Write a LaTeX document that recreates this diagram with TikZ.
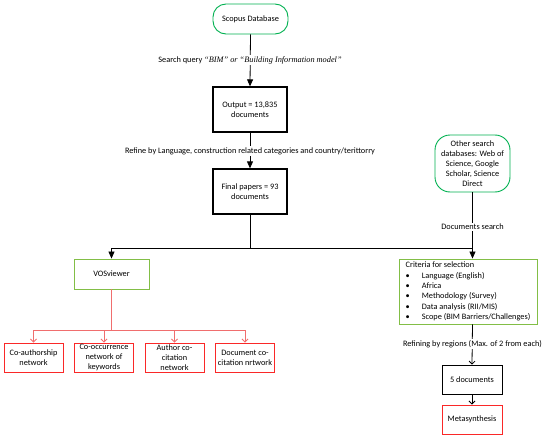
\documentclass[tikz,border=0pt]{standalone}
\usepackage{fontspec}
\setmainfont{Carlito}
\newfontfamily\tms{Liberation Serif}
\usetikzlibrary{arrows.meta}
\definecolor{sgreen}{RGB}{0,176,80}
\definecolor{lgreen}{RGB}{130,190,70}
\definecolor{rbox}{RGB}{250,40,40}
\definecolor{rline}{RGB}{240,110,110}
\tikzset{
  txt/.style={font=\fontsize{8.3}{10}\selectfont},
  term/.style={draw=sgreen, line width=0.9pt, rounded corners=13pt, align=center, inner sep=1pt},
  bbox/.style={draw=black, line width=1.3pt, align=center, minimum width=74pt, minimum height=45pt, inner sep=1pt},
  gbox/.style={draw=lgreen, line width=0.9pt, align=center, inner sep=1pt},
  rbx/.style={draw=rbox, line width=0.9pt, align=center, minimum width=59pt, minimum height=29pt, inner sep=0pt},
  sbox/.style={draw=black, line width=0.8pt, align=center, minimum width=60pt, minimum height=29pt, inner sep=1pt},
  lbl/.style={fill=white, inner sep=1pt},
  conn/.style={draw=black, line width=0.8pt},
  farr/.style={conn, -{Triangle[length=7pt,width=6pt]}},
  sarr/.style={conn, -{Straight Barb[length=3pt,width=6pt]}},
  rarr/.style={draw=rline, line width=0.9pt, -{Straight Barb[length=3pt,width=6pt]}},
  rl/.style={draw=rline, line width=0.9pt}
}
\begin{document}
\begin{tikzpicture}[x=1pt,y=-1pt,txt]
\useasboundingbox (0,0) rectangle (550,439);
% main column
\node[term, minimum width=75pt, minimum height=30pt] (scopus) at (250.5,19) {Scopus Database};
\node[bbox] (out) at (250,109.5) {Output = 13,835\\documents};
\node[bbox] (fin) at (250,191.5) {Final papers = 93\\documents};
\node[term, minimum width=75pt, minimum height=57pt, rounded corners=15pt, inner sep=0pt] (other) at (472.5,163.5) {Other search\\databases: Web of\\Science, Google\\Scholar, Science\\Direct};
\node[gbox, minimum width=75pt, minimum height=30pt] (vos) at (111.5,274) {VOSviewer};
\node[gbox, minimum width=138pt, minimum height=65pt, align=left, inner sep=2pt, font=\fontsize{8.3}{10.4}\selectfont] (crit) at (468,291.5) {Criteria for selection\\
\textbullet\hspace{12pt}Language (English)\\
\textbullet\hspace{12pt}Africa\\
\textbullet\hspace{12pt}Methodology (Survey)\\
\textbullet\hspace{12pt}Data analysis (RII/MIS)\\
\textbullet\hspace{12pt}Scope (BIM Barriers/Challenges)};
\node[rbx] (co1) at (33.5,357.5) {Co-authorship\\network};
\node[rbx] (co2) at (104,357.5) {Co-occurrence\\network of\\keywords};
\node[rbx] (co3) at (174.5,357.5) {Author co-\\citation\\network};
\node[rbx] (co4) at (245,357.5) {Document co-\\citation nrtwork};
\node[sbox] (five) at (472,379.5) {5 documents};
\node[rbx, minimum width=60pt] (meta) at (472,419.5) {Metasynthesis};
% connectors
\draw[farr] (scopus.south) -- (out.north);
\node[lbl] (q1) at (250,60) {Search query {\tms\itshape “BIM” or “Building Information model”}};
\draw[farr] (out.south) -- (fin.north);
\node[lbl] (q2) at (250,151) {Refine by Language, construction related categories and country/terittorry};
\coordinate (j) at (250,248);
\draw[conn] (fin.south) -- (j);
\draw[farr] (j) -| (vos.north);
\coordinate (jr) at (472.5,248);
\draw[conn] (j) -- (jr);
\draw[farr] (other.south) -- (other.south |- crit.north);
\node[lbl] (ds) at (472.5,227) {Documents search};
\draw[sarr] (other.south |- crit.south) -- (five.north);
\node[lbl] (rr) at (472.5,344) {Refining by regions (Max. of 2 from each)};
\draw[sarr] (five.south) -- (meta.north);
% red branches
\coordinate (rj) at (111.5,330);
\draw[rl] (vos.south) -- (rj);
\coordinate (rL) at (33.5,330);
\coordinate (rR) at (245,330);
\draw[rl] (rL) -- (rR);
\draw[rarr] (rL) -- (co1.north);
\draw[rarr] (co2.north |- rL) -- (co2.north);
\draw[rarr] (co3.north |- rL) -- (co3.north);
\draw[rarr] (rR) -- (co4.north);
\end{tikzpicture}
\end{document}
